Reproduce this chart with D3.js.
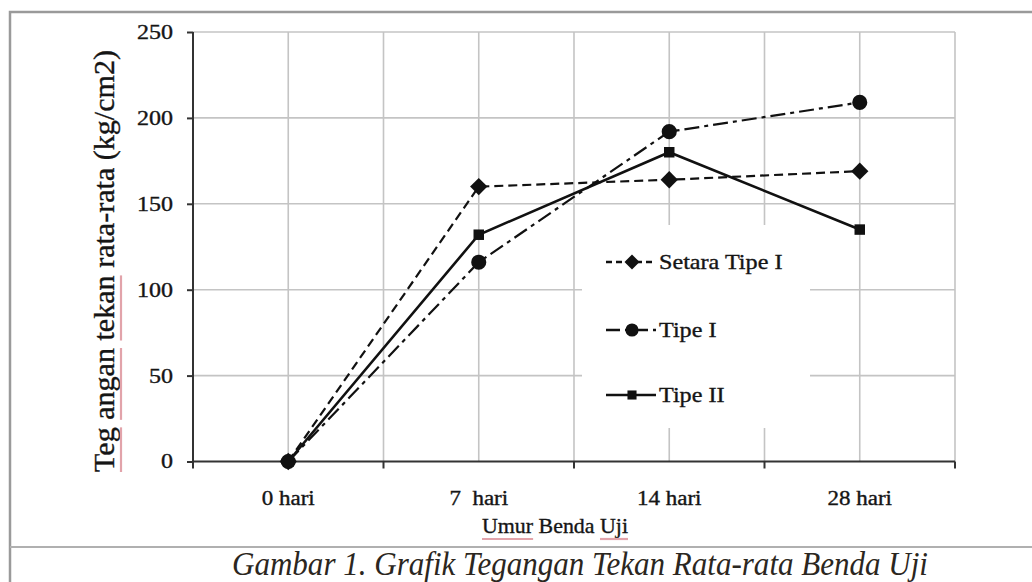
<!DOCTYPE html>
<head>
	<script src="https://d3js.org/d3.v7.min.js"></script>
</head>
<style>
body {
    margin: 0;
    background: #fff;
    font-family: "Liberation Serif", "Times New Roman", serif;
}
text {
    fill: #151515;
    stroke: #151515;
    stroke-width: 0.35px;
}
.grid line {
    stroke: #c4c4c4;
    stroke-width: 1.6px;
}
.axis path, .axis line {
    stroke: #333;
    stroke-width: 2px;
}
.axis text {
    font-family: "Liberation Serif", serif;
    font-size: 20px;
}
</style>
<body>
<script>
	// chart data
	var categories = ["0 hari", "7  hari", "14 hari", "28 hari"];
	var yTicks = [0, 50, 100, 150, 200, 250];
	var seriesNames = ["Setara Tipe I", "Tipe I", "Tipe II"];
	var setaraTipeI = [0, 160, 164, 169];
	var tipeI = [0, 116, 192, 209];
	var tipeII = [0, 132, 180, 135];

	var width = 1032;
	var height = 582;
	var plot = {left: 193, right: 955, top: 32, bottom: 461.5};

	var svg = d3.select("body")
	    .append("svg")
	    .attr("width", width)
	    .attr("height", height);

	// stretch a text to k times its natural length
	function widen(sel, k) {
		sel.each(function() {
			var w = this.getComputedTextLength();
			d3.select(this).attr("textLength", w * k).attr("lengthAdjust", "spacingAndGlyphs");
		});
	}

	// centred text squeezed to a length, with pink spell-check marks under some words
	function fitted(g, str, size, len, ranges, off) {
		var t = g.append("text")
		    .attr("text-anchor", "middle")
		    .attr("font-size", size)
		    .text(str);
		var node = t.node();
		var nat = node.getComputedTextLength();
		var k = len / nat;
		var x0 = node.getStartPositionOfChar(0).x;
		var marks = ranges.map(function(r) {
			return [node.getStartPositionOfChar(r[0]).x - x0, node.getEndPositionOfChar(r[1]).x - x0];
		});
		t.attr("textLength", len).attr("lengthAdjust", "spacingAndGlyphs");
		marks.forEach(function(m) {
			g.append("line")
			    .attr("x1", -len / 2 + m[0] * k).attr("x2", -len / 2 + m[1] * k)
			    .attr("y1", off).attr("y2", off)
			    .attr("stroke", "#e2a3aa")
			    .attr("stroke-width", 2.2);
		});
		return t;
	}

	// outer frame of the figure
	svg.append("path")
	    .attr("d", "M10," + (height + 5) + "V12H" + (width + 5))
	    .attr("fill", "none")
	    .attr("stroke", "#9a9a9a")
	    .attr("stroke-width", 2.5);
	svg.append("line")
	    .attr("x1", 10).attr("x2", width + 5)
	    .attr("y1", 547).attr("y2", 547)
	    .attr("stroke", "#b0b0b0")
	    .attr("stroke-width", 2);

	var x = d3.scaleBand()
	    .domain(categories)
	    .range([plot.left, plot.right])
	    .padding(0);

	var y = d3.scaleLinear()
	    .domain([0, 250])
	    .range([plot.bottom, plot.top]);

	// grid
	var grid = svg.append("g").attr("class", "grid");
	grid.selectAll(".h")
	    .data(yTicks.filter(function(d) { return d > 0; }))
	    .enter().append("line")
	    .attr("x1", plot.left).attr("x2", plot.right)
	    .attr("y1", function(d) { return y(d); })
	    .attr("y2", function(d) { return y(d); });
	var vx = [];
	categories.forEach(function(c) {
		vx.push(x(c) + x.bandwidth() / 2);
		vx.push(x(c) + x.bandwidth());
	});
	grid.selectAll(".v")
	    .data(vx)
	    .enter().append("line")
	    .attr("x1", function(d) { return d; }).attr("x2", function(d) { return d; })
	    .attr("y1", plot.top).attr("y2", plot.bottom);

	// axes
	var yAxis = svg.append("g")
	    .attr("class", "axis")
	    .attr("transform", "translate(" + plot.left + ",0)")
	    .call(d3.axisLeft(y).tickValues(yTicks).tickSize(6).tickPadding(14));
	yAxis.select(".domain").attr("d", "M0," + plot.top + "V" + plot.bottom);
	widen(yAxis.selectAll("text"), 1.2);

	var xAxis = svg.append("g")
	    .attr("class", "axis")
	    .attr("transform", "translate(0," + plot.bottom + ")")
	    .call(d3.axisBottom(x).tickSize(0).tickPadding(29));
	xAxis.select(".domain").attr("d", "M" + plot.left + ",0H" + plot.right);
	xAxis.selectAll("text").style("white-space", "pre");
	widen(xAxis.selectAll("text"), 1.15);
	xAxis.selectAll(".edge")
	    .data(categories)
	    .enter().append("line")
	    .attr("class", "edge")
	    .attr("x1", function(d) { return x(d) + x.bandwidth(); })
	    .attr("x2", function(d) { return x(d) + x.bandwidth(); })
	    .attr("y1", 0).attr("y2", 7);
	xAxis.append("line")
	    .attr("x1", plot.left).attr("x2", plot.left)
	    .attr("y1", 0).attr("y2", 7);

	// axis titles
	var yt = svg.append("g").attr("transform", "translate(114,261) rotate(-90)");
	fitted(yt, "Teg angan tekan rata-rata (kg/cm2)", 29, 422, [[0, 2], [4, 8], [10, 14]], 7);

	var xt = svg.append("g").attr("transform", "translate(555,533)");
	fitted(xt, "Umur Benda Uji", 22, 146, [[0, 3], [11, 13]], 6);

	// caption
	svg.append("text")
	    .attr("x", 580)
	    .attr("y", 575)
	    .attr("text-anchor", "middle")
	    .attr("font-size", 33)
	    .attr("font-style", "italic")
	    .style("fill", "#2b2620")
	    .style("stroke", "none")
	    .attr("textLength", 696)
	    .attr("lengthAdjust", "spacingAndGlyphs")
	    .text("Gambar 1. Grafik Tegangan Tekan Rata-rata Benda Uji");

	// series
	var series = [
		{name: seriesNames[0], values: setaraTipeI, dash: "9,5", symbol: d3.symbolSquare, size: 150, rot: 45},
		{name: seriesNames[1], values: tipeI, dash: "15,5,4,5", symbol: d3.symbolCircle, size: 180, rot: 0},
		{name: seriesNames[2], values: tipeII, dash: null, symbol: d3.symbolSquare, size: 110, rot: 0}
	];

	var line = d3.line()
	    .x(function(d, i) { return x(categories[i]) + x.bandwidth() / 2; })
	    .y(function(d) { return y(d); });

	// legend box
	var legend = svg.append("g");
	legend.append("rect")
	    .attr("x", 582).attr("y", 225)
	    .attr("width", 228).attr("height", 203)
	    .attr("fill", "#fff");
	var legendY = [262, 330, 395];

	series.forEach(function(s, k) {
		svg.append("path")
		    .datum(s.values)
		    .attr("d", line)
		    .attr("fill", "none")
		    .attr("stroke", "#111")
		    .attr("stroke-width", s.dash ? 2.2 : 2.6)
		    .attr("stroke-dasharray", s.dash);
		svg.selectAll(".m" + k)
		    .data(s.values)
		    .enter().append("path")
		    .attr("d", d3.symbol(s.symbol, s.size))
		    .attr("fill", "#111")
		    .attr("transform", function(d, i) {
		    	return "translate(" + (x(categories[i]) + x.bandwidth() / 2) + "," + y(d) + ") rotate(" + s.rot + ")";
		    });

		var ly = legendY[k];
		legend.append("line")
		    .attr("x1", 606).attr("x2", 656)
		    .attr("y1", ly).attr("y2", ly)
		    .attr("stroke", "#111")
		    .attr("stroke-width", 2.4)
		    .attr("stroke-dasharray", s.dash ? (k == 0 ? "6,4" : "14,5,4,5") : null);
		legend.append("path")
		    .attr("d", d3.symbol(s.symbol, s.size * 0.75))
		    .attr("fill", "#111")
		    .attr("transform", "translate(632," + ly + ") rotate(" + s.rot + ")");
		var lt = legend.append("text")
		    .attr("x", 659)
		    .attr("y", ly + 7)
		    .attr("font-size", 21)
		    .text(s.name);
		widen(lt, 1.15);
	});
</script>
</body>
</html>
